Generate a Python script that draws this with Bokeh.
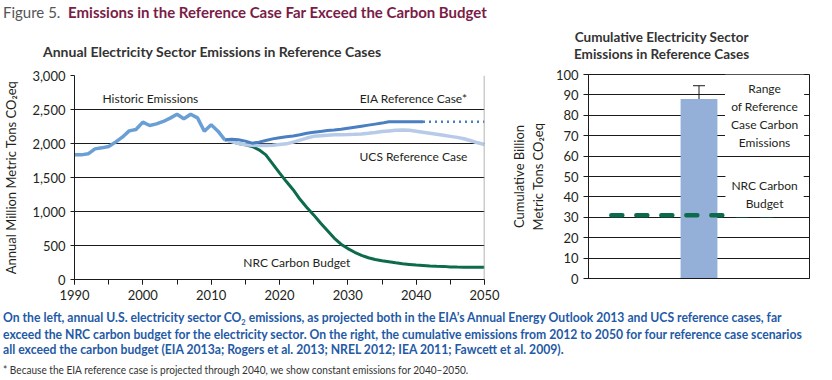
from bokeh.plotting import figure
from bokeh.models import (ColumnDataSource, Label, Range1d, SingleIntervalTicker, FixedTicker,
                          NumeralTickFormatter, Span, Whisker, TeeHead, Div)
from bokeh.layouts import column, row
from bokeh.embed import file_html
from bokeh.resources import INLINE

# ---------------- data ----------------
hist_years = list(range(1990, 2013))
hist_vals = [1833, 1833, 1848, 1921, 1936, 1956, 2020, 2093, 2186, 2206, 2314, 2265, 2289,
             2324, 2373, 2431, 2363, 2431, 2377, 2181, 2275, 2181, 2054]

eia_years = list(range(2012, 2042))
eia_vals = [2054, 2064, 2054, 2035, 2005, 2020, 2045, 2068, 2085, 2098, 2110, 2128, 2150,
            2165, 2178, 2190, 2198, 2210, 2225, 2240, 2255, 2270, 2285, 2300, 2320, 2320,
            2320, 2320, 2320, 2320]
eia_ext_years = [2041, 2050]
eia_ext_vals = [2320, 2320]

ucs_years = list(range(2012, 2051))
ucs_vals = [2054, 2029, 1998, 1982, 1975, 1970, 1970, 1975, 1985, 1995, 2020, 2050, 2080,
            2105, 2115, 2122, 2128, 2130, 2132, 2135, 2140, 2150, 2162, 2175, 2185, 2195,
            2200, 2195, 2180, 2165, 2150, 2135, 2120, 2105, 2090, 2070, 2040, 2010, 1985]

nrc_years = list(range(2012, 2051))
nrc_vals = [2054, 2029, 1998, 1982, 1956, 1907, 1833, 1701, 1569, 1440, 1320, 1180, 1060,
            950, 830, 720, 610, 520, 455, 400, 355, 320, 295, 275, 260, 245, 232, 222, 212,
            205, 198, 195, 193, 185, 182, 181, 181, 181, 181]

cum_reference = [88]          # billion metric tons, 2012-2050
cum_range_low = [81.5]
cum_range_high = [94.5]
cum_nrc_budget = [31]

FONT = "Lato"
TXT = "#231f20"

# ---------------- left chart ----------------
p1 = figure(width=507, height=240, x_range=Range1d(1990, 2050), y_range=Range1d(0, 3000),
            output_backend="svg", toolbar_location=None, margin=0,
            min_border_left=73, min_border_right=23, min_border_top=11, min_border_bottom=25)
p1.outline_line_color = None
p1.xgrid.visible = False
p1.ygrid.grid_line_color = "#1a1a1a"
p1.ygrid.grid_line_width = 1

p1.xaxis.ticker = SingleIntervalTicker(interval=10, num_minor_ticks=2)
p1.yaxis.ticker = SingleIntervalTicker(interval=500)
p1.yaxis.formatter = NumeralTickFormatter(format="0,0")
for ax in (p1.xaxis, p1.yaxis):
    ax.axis_line_color = "#1a1a1a"
    ax.major_tick_line_color = "#1a1a1a"
    ax.minor_tick_line_color = "#1a1a1a"
    ax.major_tick_in = 0
    ax.minor_tick_in = 0
    ax.major_label_text_font = FONT
    ax.major_label_text_font_size = "13px"
    ax.major_label_text_color = TXT
p1.xaxis.major_tick_out = 5
p1.xaxis.minor_tick_out = 5
p1.yaxis.major_tick_out = 4
p1.yaxis.minor_tick_line_color = None
p1.yaxis.axis_label = "Annual Million Metric Tons CO₂eq"
p1.yaxis.axis_label_text_font = FONT
p1.yaxis.axis_label_text_font_size = "13px"
p1.yaxis.axis_label_text_font_style = "normal"
p1.yaxis.axis_label_text_color = TXT
p1.yaxis.axis_label_standoff = 10

p1.add_layout(Span(location=2050, dimension="height", line_color="#9a9a9a", line_width=1.5))

p1.line(nrc_years, nrc_vals, line_color="#0b6b4c", line_width=3)
p1.line(ucs_years, ucs_vals, line_color="#b7cbe8", line_width=3.5)
p1.line(eia_years, eia_vals, line_color="#4a7fc1", line_width=3)
p1.line(eia_ext_years, eia_ext_vals, line_color="#4a7fc1", line_width=2.5, line_dash="2 4")
p1.line(hist_years, hist_vals, line_color="#6a9fd6", line_width=3.5)

lab_kw = dict(text_font=FONT, text_font_size="12px", text_color=TXT, text_baseline="middle")
p1.add_layout(Label(x=1994.1, y=2662, text="Historic Emissions", text_align="left", **lab_kw))
p1.add_layout(Label(x=2047.5, y=2662, text="EIA Reference Case*", text_align="right", **lab_kw))
p1.add_layout(Label(x=2047.5, y=1809, text="UCS Reference Case", text_align="right", **lab_kw))
p1.add_layout(Label(x=2014.7, y=250, text="NRC Carbon Budget", text_align="left", **lab_kw))

# ---------------- right chart ----------------
p2 = figure(width=317, height=240, x_range=Range1d(0, 6), y_range=Range1d(0, 100),
            output_backend="svg", toolbar_location=None, margin=0,
            min_border_left=76, min_border_right=15, min_border_top=10, min_border_bottom=26)
p2.outline_line_color = "#1a1a1a"
p2.xgrid.visible = False
p2.ygrid.grid_line_color = "#1a1a1a"
p2.ygrid.grid_line_width = 1
p2.xaxis.ticker = FixedTicker(ticks=[])
p2.xaxis.axis_line_color = "#1a1a1a"
p2.yaxis.ticker = SingleIntervalTicker(interval=10)
p2.yaxis.axis_line_color = "#1a1a1a"
p2.yaxis.major_tick_line_color = "#1a1a1a"
p2.yaxis.minor_tick_line_color = None
p2.yaxis.major_tick_in = 0
p2.yaxis.major_tick_out = 5
p2.yaxis.major_label_text_font = FONT
p2.yaxis.major_label_text_font_size = "13px"
p2.yaxis.major_label_text_color = TXT
p2.yaxis.axis_label = "Cumulative Billion\nMetric Tons CO₂eq"
p2.yaxis.axis_label_text_font = FONT
p2.yaxis.axis_label_text_font_size = "13px"
p2.yaxis.axis_label_text_font_style = "normal"
p2.yaxis.axis_label_text_color = TXT
p2.yaxis.axis_label_standoff = 7

bar_x = 3
p2.vbar(x=[bar_x], top=cum_reference, width=1, fill_color="#94b0d8", line_color=None)
wsrc = ColumnDataSource(dict(base=[bar_x], lower=cum_range_low, upper=cum_range_high))
p2.add_layout(Whisker(source=wsrc, base="base", lower="lower", upper="upper",
                      line_color="#1a1a1a", line_width=1,
                      upper_head=TeeHead(size=12, line_color="#1a1a1a", line_width=1),
                      lower_head=TeeHead(size=12, line_color="#1a1a1a", line_width=1)))
p2.segment(x0=[0.62], x1=[5.1], y0=cum_nrc_budget, y1=cum_nrc_budget,
           line_color="#0b6b4c", line_width=4.5, line_dash="11 14", line_cap="round")

box_kw = dict(text_font=FONT, text_font_size="12px", text_color=TXT, text_align="center",
              text_baseline="middle", background_fill_color="white", padding=6)
p2.add_layout(Label(x=4.78, y=80.1, text="Range\nof Reference\nCase Carbon\nEmissions", **box_kw))
p2.add_layout(Label(x=4.78, y=41.2, text="NRC Carbon\nBudget", **box_kw))

# ---------------- texts ----------------
title = Div(width=824, height=20, margin=0, text=(
    '<div style="font-family:Lato;font-size:15px;line-height:16px;padding-top:4px;padding-left:3px;white-space:nowrap;">'
    '<span style="color:#555555">Figure 5.</span>&nbsp;&nbsp;'
    '<span style="color:#7a1c47;font-weight:bold">Emissions in the Reference Case Far Exceed the Carbon Budget</span></div>'))

t1 = Div(width=507, height=44, margin=0, text=(
    '<div style="font-family:Lato;font-size:14px;font-weight:bold;color:#333333;line-height:16px;'
    'padding-top:24px;padding-left:43px;text-align:center;white-space:nowrap;">'
    'Annual Electricity Sector Emissions in Reference Cases</div>'))

t2 = Div(width=317, height=44, margin=0, text=(
    '<div style="font-family:Lato;font-size:13.5px;font-weight:bold;color:#333333;line-height:17px;'
    'padding-top:9px;padding-left:67px;text-align:center;white-space:nowrap;">'
    'Cumulative Electricity Sector<br>Emissions in Reference Cases</div>'))

caption = Div(width=824, height=74, margin=0, text=(
    '<div style="font-family:Lato,sans-serif;padding-top:6px;padding-left:3px;box-sizing:border-box;'
    'white-space:nowrap;overflow:hidden;width:821px;height:74px;">'
    '<div style="color:#1f5aa6;font-weight:bold;font-size:13px;line-height:15px;'
    'transform:scaleX(0.937);transform-origin:left top;">'
    'On the left, annual U.S. electricity sector CO<span style="font-size:8px;position:relative;top:3px">2</span> emissions, as projected both in the EIA\u2019s Annual Energy Outlook 2013 and UCS reference cases, far<br>'
    'exceed the NRC carbon budget for the electricity sector. On the right, the cumulative emissions from 2012 to 2050 for four reference case scenarios<br>'
    'all exceed the carbon budget (EIA 2013a; Rogers et al. 2013; NREL 2012; IEA 2011; Fawcett et al. 2009).</div>'
    '<div style="color:#333333;font-size:10.5px;line-height:12px;margin-top:7px;'
    'transform:scaleX(0.96);transform-origin:left top;">'
    '* Because the EIA reference case is projected through 2040, we show constant emissions for 2040\u20132050.</div>'
    '</div>'))

layout = column(title, row(column(t1, p1), column(t2, p2)), caption)
open("out.html", "w").write(file_html(layout, INLINE))
